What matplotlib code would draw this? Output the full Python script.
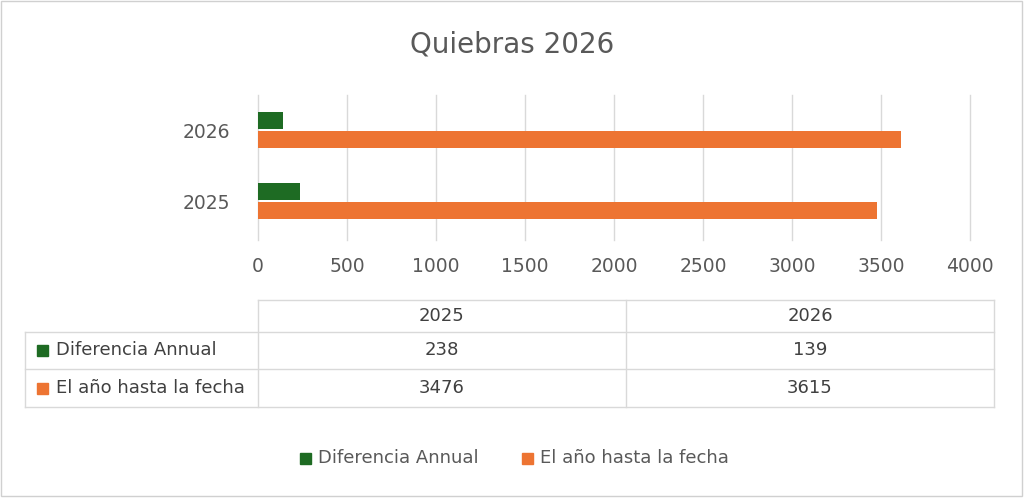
import matplotlib
matplotlib.use("Agg")
import matplotlib.pyplot as plt
from matplotlib.lines import Line2D
from matplotlib.patches import Rectangle

categories = ["2025", "2026"]
series_names = ["Diferencia Annual", "El año hasta la fecha"]
diferencia = [238, 139]
ytd = [3476, 3615]
colors = ["#1e6b23", "#ed7432"]
xticks = [0, 500, 1000, 1500, 2000, 2500, 3000, 3500, 4000]

W, H = 1024, 498
fig = plt.figure(figsize=(W/100, H/100), dpi=100)
def fx(x): return x / W
def fy(y): return 1 - y / H

fig.add_artist(Rectangle((fx(1), fy(496)), fx(1021), 1 - 3/H, transform=fig.transFigure,
                         fill=False, edgecolor="#d0d0d0", lw=1))
ax = fig.add_axes([fx(258), fy(240), fx(970) - fx(258), fy(95) - fy(240)])
pos = list(range(len(categories)))
h = 0.24
g = 0.015
ax.barh([p + h/2 + g for p in pos], diferencia, height=h, color=colors[0], zorder=3)
ax.barh([p - h/2 - g for p in pos], ytd, height=h, color=colors[1], zorder=3)
ax.set_xlim(0, 4000)
ax.set_ylim(-0.55, 1.5)
ax.set_xticks(xticks)
ax.set_yticks(pos)
ax.set_yticklabels(categories)
ax.grid(axis="x", color="#d9d9d9", lw=1, zorder=0)
for gl in ax.get_xgridlines():
    gl.set_clip_on(False)
for s in ax.spines.values():
    s.set_visible(False)
ax.tick_params(length=0, labelsize=13.5, colors="#595959", pad=20)
ax.tick_params(axis="x", pad=12)
fig.text(0.5, fy(45), "Quiebras 2026", ha="center", va="center", fontsize=20, color="#595959")

# table
lc = "#d9d9d9"
def line(x0, y0, x1, y1):
    fig.add_artist(Line2D([fx(x0), fx(x1)], [fy(y0), fy(y1)], color=lc, lw=1, transform=fig.transFigure))
line(258, 300, 994, 300)
for y in (332, 369, 407):
    line(25, y, 994, y)
for x in (258, 626, 994):
    line(x, 300, x, 407)
line(25, 332, 25, 407)
tc = "#404040"
colx = [442, 810]
for i, c in enumerate(categories):
    fig.text(fx(colx[i]), fy(316), c, ha="center", va="center", fontsize=13, color=tc)
rows = [diferencia, ytd]
rowy = [350, 388]
for r, (name, vals) in enumerate(zip(series_names, rows)):
    fig.add_artist(Rectangle((fx(37), fy(rowy[r] + 6)), 11/W, 11/H, transform=fig.transFigure, color=colors[r]))
    fig.text(fx(56), fy(rowy[r]), name, ha="left", va="center", fontsize=13, color=tc)
    for i, v in enumerate(vals):
        fig.text(fx(colx[i]), fy(rowy[r]), str(v), ha="center", va="center", fontsize=13, color=tc)

# legend
lx = [300, 522]
for r, name in enumerate(series_names):
    fig.add_artist(Rectangle((fx(lx[r]), fy(464)), 11/W, 11/H, transform=fig.transFigure, color=colors[r]))
    fig.text(fx(lx[r] + 18), fy(458), name, ha="left", va="center", fontsize=13, color="#595959")

fig.savefig("out.png", dpi=100)
